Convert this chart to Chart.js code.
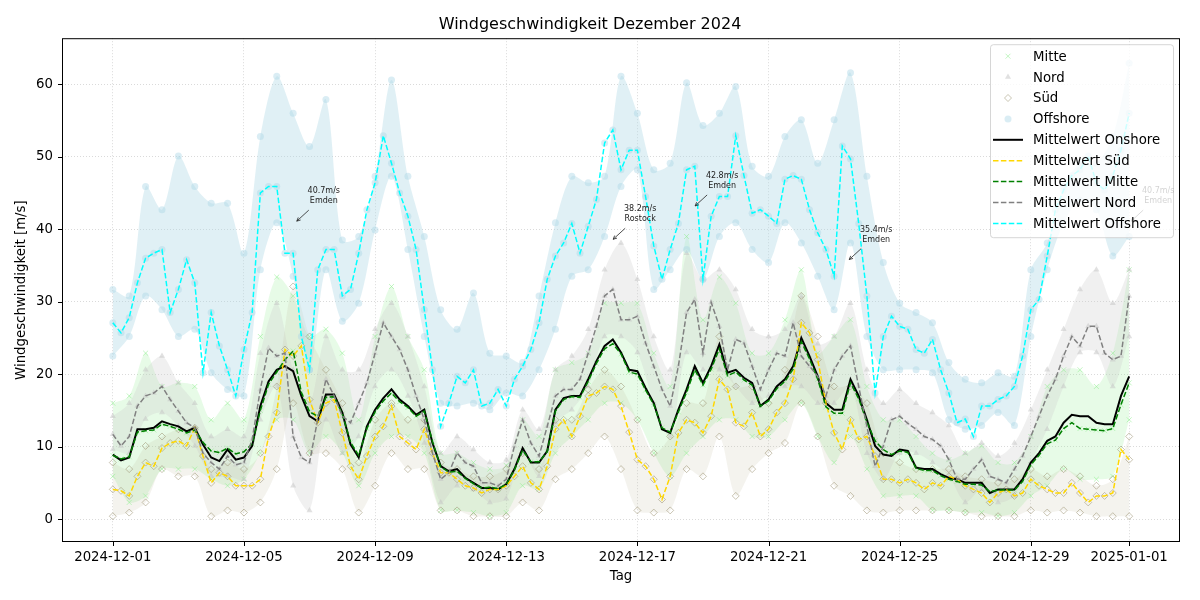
<!DOCTYPE html>
<html>
<head>
<meta charset="utf-8">
<script src="https://cdn.jsdelivr.net/npm/chart.js@4.4.1/dist/chart.umd.min.js"></script>
<style>
  html, body { margin: 0; padding: 0; background: #fff; }
  #wrap { width: 1200px; height: 600px; }
</style>
</head>
<body>
<div id="wrap"><canvas id="windChart" width="1200" height="600"></canvas></div>
<script>
// days since 2024-12-01 00:00, mean lines every 6 hours
const onshoreMean = [
  8.9, 8.1, 8.5, 12.4, 12.4, 12.6, 13.5, 13.1, 12.8, 12.1, 12.6, 10.3,
  8.5, 8.0, 9.6, 8.2, 8.5, 10.1, 15.6, 19.0, 20.6, 21.1, 20.4, 17.0,
  14.2, 13.5, 17.2, 17.2, 14.7, 10.3, 8.5, 12.8, 15.1, 16.7, 17.9, 16.5,
  15.6, 14.4, 15.1, 10.5, 7.3, 6.6, 6.9, 5.7, 5.0, 4.3, 4.3, 4.1,
  4.8, 6.9, 9.8, 7.8, 7.8, 9.4, 15.1, 16.7, 17.0, 17.0, 19.3, 21.8,
  23.9, 24.8, 23.0, 20.6, 20.4, 18.1, 16.0, 12.4, 11.9, 15.1, 17.9, 21.1,
  18.8, 21.1, 24.1, 20.2, 20.6, 19.5, 18.8, 15.6, 16.5, 18.3, 19.3, 21.1,
  25.0, 22.5, 19.7, 16.0, 15.1, 15.1, 19.3, 17.0, 13.7, 10.1, 8.9, 8.7,
  9.6, 9.4, 7.1, 6.9, 6.9, 6.2, 5.7, 5.5, 5.0, 5.0, 5.0, 3.6,
  4.1, 4.1, 4.1, 5.5, 7.8, 9.1, 10.8, 11.4, 13.3, 14.4, 14.2, 14.2,
  13.3, 13.1, 13.1, 17.0, 19.7
];
const sudMean = [
  4.1, 3.9, 3.2, 5.9, 7.8, 7.3, 9.8, 10.5, 10.8, 10.1, 12.6, 8.7,
  5.0, 6.4, 5.9, 4.6, 4.6, 4.6, 5.5, 11.4, 14.7, 23.4, 22.5, 23.9,
  16.5, 13.3, 16.0, 16.5, 11.9, 7.3, 5.5, 8.7, 11.4, 12.8, 15.6, 11.4,
  10.5, 9.6, 12.4, 9.1, 6.4, 6.4, 5.5, 4.6, 4.3, 3.6, 4.1, 4.1,
  4.6, 5.9, 7.3, 5.0, 4.1, 7.3, 12.4, 13.7, 11.4, 14.2, 17.0, 17.4,
  18.3, 17.9, 15.6, 12.0, 8.2, 7.3, 5.5, 2.7, 5.9, 11.9, 13.7, 13.3,
  11.9, 14.2, 19.3, 17.9, 13.3, 12.8, 14.7, 11.4, 12.4, 14.7, 16.0, 19.3,
  27.1, 25.7, 22.0, 16.0, 11.9, 9.6, 13.7, 11.0, 11.4, 8.7, 5.5, 5.5,
  5.0, 5.5, 5.0, 4.1, 5.0, 4.6, 5.9, 5.5, 4.6, 4.1, 3.6, 2.3,
  3.6, 4.1, 3.2, 3.6, 5.5, 4.6, 4.1, 3.6, 3.6, 5.0, 3.6, 2.3,
  3.2, 3.2, 3.6, 9.6, 8.2
];
const mitteMean = [
  8.8, 8.3, 8.6, 12.0, 12.2, 12.3, 13.1, 12.8, 12.4, 11.9, 12.3, 10.6,
  9.4, 9.2, 9.8, 9.0, 9.3, 10.4, 15.0, 18.6, 20.3, 22.0, 23.2, 17.5,
  14.8, 14.2, 16.8, 16.9, 14.5, 10.6, 8.8, 12.5, 14.8, 16.3, 17.4, 16.2,
  15.4, 14.2, 14.9, 10.7, 7.2, 6.5, 6.6, 5.6, 4.9, 4.3, 4.4, 4.2,
  4.8, 6.8, 9.5, 7.9, 7.9, 9.3, 14.9, 16.5, 16.9, 16.8, 19.0, 21.5,
  23.5, 24.2, 22.8, 20.3, 20.0, 17.8, 15.8, 12.6, 12.0, 14.8, 17.5, 20.6,
  18.5, 20.7, 23.5, 19.8, 20.3, 19.2, 18.5, 15.6, 16.3, 18.0, 19.0, 20.7,
  24.5, 22.1, 19.3, 15.5, 14.6, 14.6, 18.8, 16.6, 13.4, 10.8, 9.6, 8.9,
  9.4, 9.2, 7.0, 6.7, 6.7, 6.0, 5.5, 5.2, 4.8, 4.8, 4.7, 3.8,
  4.0, 4.0, 4.0, 5.2, 7.5, 8.8, 10.4, 10.9, 12.5, 13.3, 12.5, 12.4,
  12.3, 12.2, 12.5, 15.8, 18.8
];
const nordMean = [
  11.7, 10.1, 11.4, 15.6, 17.0, 17.4, 18.3, 16.5, 14.9, 13.3, 12.6, 9.1,
  7.8, 6.9, 8.7, 7.5, 7.8, 11.0, 17.9, 23.6, 22.5, 22.9, 11.4, 8.5,
  7.8, 13.8, 19.3, 17.0, 14.2, 13.3, 16.0, 18.8, 22.9, 27.1, 25.2, 23.4,
  20.6, 17.0, 13.7, 9.1, 5.5, 6.4, 9.1, 7.8, 7.3, 5.0, 5.0, 4.6,
  5.5, 10.1, 13.7, 10.5, 8.7, 12.8, 17.0, 17.9, 17.9, 19.3, 22.9, 26.6,
  30.8, 31.7, 27.5, 27.5, 28.0, 24.3, 21.1, 17.9, 15.6, 21.1, 28.5, 30.3,
  22.9, 29.9, 26.6, 20.6, 24.8, 24.3, 21.1, 17.9, 20.6, 22.9, 22.5, 27.1,
  22.5, 21.1, 19.7, 17.0, 20.6, 22.5, 23.9, 18.3, 12.8, 7.3, 10.1, 13.7,
  14.2, 13.2, 12.4, 11.4, 11.0, 10.1, 8.2, 5.5, 5.5, 6.9, 8.2, 5.9,
  5.5, 5.0, 6.9, 8.7, 11.4, 14.2, 17.0, 19.3, 22.5, 25.2, 23.9, 26.6,
  26.6, 22.9, 22.0, 22.5, 30.8
];
const offshoreMean = [
  27.1, 25.7, 27.8, 32.6, 36.0, 36.7, 37.2, 28.5, 31.7, 35.8, 32.6, 20.2,
  28.5, 23.9, 20.6, 17.0, 23.4, 28.5, 45.0, 45.9, 45.9, 36.7, 36.7, 25.2,
  20.6, 34.4, 37.2, 37.2, 30.8, 31.7, 36.7, 42.7, 46.4, 52.9, 49.1, 45.0,
  41.8, 37.2, 28.9, 20.6, 12.8, 16.0, 19.7, 18.8, 20.6, 15.6, 16.0, 17.9,
  15.6, 19.3, 21.1, 23.4, 27.1, 33.1, 36.3, 38.1, 40.8, 36.7, 40.4, 44.1,
  51.9, 53.7, 48.2, 50.9, 50.9, 44.5, 37.7, 33.1, 37.2, 40.8, 48.2, 48.7,
  33.1, 41.8, 44.5, 44.5, 52.9, 47.4, 42.2, 42.7, 41.8, 40.8, 46.9, 47.4,
  46.9, 42.7, 39.5, 37.2, 33.5, 51.5, 49.7, 40.8, 30.8, 17.4, 25.2, 28.0,
  26.6, 26.2, 23.4, 22.9, 24.8, 20.6, 17.4, 13.3, 13.8, 11.4, 15.6, 15.6,
  16.5, 17.0, 18.3, 22.5, 28.9, 30.3, 36.3, 42.7, 45.4, 47.4, 48.2, 50.1,
  46.4, 45.4, 47.4, 50.9, 56.0
];

// station spread, upper and lower edge every 12 hours
const mitteHi = [16.0, 17.0, 22.9, 18.3, 18.8, 18.3, 13.7, 16.0, 13.7, 25.2, 33.4, 30.8, 25.2, 26.2, 22.9, 13.7, 25.2, 32.1, 25.2, 20.6, 9.1, 9.1, 7.8, 6.9, 7.4, 13.7, 11.4, 20.6, 21.6, 22.9, 29.8, 29.8, 29.8, 22.9, 18.3, 39.0, 27.5, 33.4, 29.8, 22.9, 22.9, 27.5, 34.4, 22.9, 25.2, 27.5, 18.3, 13.7, 13.7, 11.4, 9.1, 8.2, 9.1, 10.1, 7.8, 7.8, 11.4, 18.3, 20.6, 20.6, 18.3, 22.9, 34.4];
const mitteLo = [5.9, 2.3, 3.2, 6.9, 6.9, 6.9, 5.5, 4.6, 5.5, 9.1, 13.7, 13.7, 9.1, 11.4, 9.1, 4.6, 9.1, 11.4, 11.4, 9.1, 1.2, 1.2, 0.9, 0.4, 0.9, 4.6, 4.1, 9.1, 11.4, 13.7, 16.0, 16.0, 13.7, 9.1, 5.9, 9.1, 11.4, 13.7, 13.7, 11.4, 11.4, 13.7, 16.0, 11.4, 7.8, 11.4, 6.9, 3.2, 3.2, 3.2, 1.2, 1.2, 0.9, 0.9, 0.4, 0.9, 3.2, 4.6, 6.9, 5.5, 5.5, 5.9, 13.7];
const nordHi = [14.2, 16.0, 20.6, 22.5, 18.8, 16.0, 11.4, 12.4, 11.4, 22.9, 29.8, 20.6, 16.0, 25.2, 20.6, 20.6, 26.2, 29.8, 25.2, 18.3, 9.1, 11.4, 9.6, 7.8, 8.2, 15.1, 12.4, 20.6, 22.5, 26.2, 34.4, 38.1, 33.1, 25.2, 20.6, 36.7, 33.1, 34.4, 31.7, 26.2, 25.2, 26.2, 30.8, 24.2, 25.2, 29.8, 20.6, 16.0, 17.9, 16.0, 14.7, 12.9, 9.1, 10.5, 8.7, 10.5, 15.1, 20.6, 26.2, 31.7, 34.4, 29.8, 34.4];
const nordLo = [9.6, 9.1, 13.8, 14.7, 12.8, 10.1, 5.9, 5.9, 5.5, 13.7, 18.3, 4.6, 1.2, 13.7, 9.1, 11.4, 18.3, 20.6, 17.0, 10.5, 2.3, 4.6, 4.1, 2.3, 2.8, 9.1, 5.9, 13.3, 15.1, 18.3, 25.2, 25.2, 23.0, 16.0, 11.4, 23.0, 20.6, 20.6, 18.3, 16.0, 17.0, 18.3, 18.3, 16.0, 16.0, 18.3, 9.1, 5.5, 9.1, 9.1, 7.8, 5.9, 2.3, 4.1, 2.3, 3.2, 7.8, 12.4, 18.3, 23.0, 23.0, 18.3, 25.2];
const sudHi = [7.8, 6.9, 10.1, 11.4, 12.4, 12.4, 6.9, 7.8, 6.9, 9.1, 18.3, 32.1, 25.2, 20.6, 16.0, 7.8, 13.7, 16.0, 13.7, 13.7, 7.8, 6.9, 5.9, 5.9, 6.9, 9.1, 6.9, 13.7, 13.7, 17.9, 20.6, 18.3, 13.7, 9.1, 11.4, 16.0, 16.0, 25.2, 18.3, 18.3, 16.0, 20.6, 30.8, 25.2, 18.3, 18.3, 16.0, 9.1, 7.8, 6.9, 6.9, 6.9, 5.9, 5.5, 5.0, 5.5, 6.9, 5.9, 6.9, 5.9, 4.6, 5.5, 11.4];
const sudLo = [0.4, 0.9, 2.3, 6.9, 5.9, 5.9, 0.4, 1.2, 0.9, 2.3, 6.9, 16.0, 9.1, 9.1, 6.9, 0.9, 4.6, 9.1, 6.9, 6.9, 1.2, 1.2, 0.4, 0.4, 0.4, 2.3, 1.2, 5.5, 6.9, 9.1, 11.4, 6.9, 1.2, 0.9, 1.2, 6.9, 5.9, 11.4, 3.2, 6.9, 9.1, 10.5, 16.0, 11.4, 4.6, 3.2, 1.2, 0.9, 1.2, 1.2, 1.2, 1.2, 0.9, 0.4, 0.4, 0.4, 1.2, 0.9, 1.2, 0.9, 0.4, 0.4, 0.4];
const offshoreHi = [31.7, 30.8, 45.9, 42.7, 50.1, 45.9, 43.6, 43.6, 36.7, 52.8, 61.1, 56.0, 51.4, 57.9, 38.5, 39.0, 47.3, 60.6, 47.3, 39.0, 28.9, 26.2, 31.2, 22.9, 22.5, 21.6, 30.8, 40.9, 47.3, 46.4, 47.3, 61.1, 56.0, 48.2, 49.1, 60.2, 54.3, 56.0, 59.7, 48.7, 47.3, 52.8, 55.1, 49.1, 55.1, 61.6, 47.3, 35.4, 29.8, 28.5, 27.1, 21.6, 19.3, 18.8, 20.2, 19.7, 34.4, 38.1, 45.9, 49.1, 49.1, 52.8, 62.9];
const offshoreLo = [22.5, 25.2, 30.8, 28.9, 25.2, 26.2, 20.2, 17.9, 17.0, 34.4, 40.9, 33.5, 20.6, 34.4, 27.3, 29.8, 39.9, 47.3, 37.2, 25.2, 16.0, 15.6, 16.0, 15.1, 17.4, 17.0, 20.6, 26.2, 33.5, 34.4, 39.0, 45.9, 48.2, 31.7, 34.4, 37.2, 33.1, 39.0, 40.9, 37.2, 35.4, 40.9, 38.1, 33.5, 28.9, 38.1, 25.2, 20.6, 20.6, 20.6, 20.2, 13.7, 12.4, 12.9, 14.7, 12.9, 25.2, 34.4, 40.9, 44.0, 42.7, 36.3, 39.0];

// marked maxima
const peakDays = [5.55, 15.2, 17.7, 22.4, 31.0];
const peakValues = [40.7, 38.2, 42.8, 35.4, 40.7];
const peakStations = ["Emden", "Rostock", "Emden", "Emden", "Emden"];

const xTicks = [0, 4, 8, 12, 16, 20, 24, 28, 31];
const yTicks = [0, 10, 20, 30, 40, 50, 60];

const FONT = "'DejaVu Sans', sans-serif";
const DAY0 = Date.UTC(2024, 11, 1);
const dash = [5.5, 2.4];

function sixHourly(values) {
  return values.map((v, i) => ({ x: i * 0.25, y: v }));
}
function halfDaily(values) {
  return values.map((v, i) => ({ x: i * 0.5, y: v }));
}
function cloud(hi, lo, mean) {
  return halfDaily(hi).concat(halfDaily(lo), sixHourly(mean));
}

const scatterSets = [
  { label: "Mitte", data: cloud(mitteHi, mitteLo, mitteMean), pointStyle: "crossRot",
    borderColor: "rgba(144,238,144,0.55)", backgroundColor: "rgba(144,238,144,0.55)", pointBorderWidth: 1, order: 9 },
  { label: "Nord", data: cloud(nordHi, nordLo, nordMean), pointStyle: "triangle",
    borderColor: "rgba(200,200,200,0.0)", backgroundColor: "rgba(195,195,195,0.5)", pointBorderWidth: 0, order: 8 },
  { label: "Süd", data: cloud(sudHi, sudLo, sudMean), pointStyle: "rectRot",
    borderColor: "rgba(150,140,105,0.5)", backgroundColor: "rgba(0,0,0,0)", pointBorderWidth: 1, order: 7 },
  { label: "Offshore", data: cloud(offshoreHi, offshoreLo, offshoreMean), pointStyle: "circle",
    borderColor: "rgba(0,0,0,0)", backgroundColor: "rgba(173,216,230,0.45)", pointBorderWidth: 0, order: 6 }
].map(s => Object.assign({ type: "scatter", pointRadius: 3.5 }, s));

// the dense part of each station cloud, shaded between its upper and lower edge
function band(hi, lo, color, order) {
  const base = { type: "line", pointRadius: 0, borderWidth: 0, borderColor: "rgba(0,0,0,0)", tension: 0.3, order: order };
  return [
    Object.assign({ data: halfDaily(hi), fill: "+1", backgroundColor: color }, base),
    Object.assign({ data: halfDaily(lo), fill: false }, base)
  ];
}
const bandSets = [].concat(
  band(mitteHi, mitteLo, "rgba(144,238,144,0.22)", 17),
  band(nordHi, nordLo, "rgba(205,205,205,0.3)", 16),
  band(sudHi, sudLo, "rgba(185,178,150,0.16)", 15),
  band(offshoreHi, offshoreLo, "rgba(173,216,230,0.38)", 14)
);

const lineSets = [
  { label: "Mittelwert Onshore", data: sixHourly(onshoreMean), borderColor: "#000000", borderWidth: 2, borderDash: [], order: 5 },
  { label: "Mittelwert Süd", data: sixHourly(sudMean), borderColor: "#ffd700", borderWidth: 1.5, borderDash: dash, order: 4 },
  { label: "Mittelwert Mitte", data: sixHourly(mitteMean), borderColor: "#008000", borderWidth: 1.5, borderDash: dash, order: 3 },
  { label: "Mittelwert Nord", data: sixHourly(nordMean), borderColor: "#808080", borderWidth: 1.5, borderDash: dash, order: 2 },
  { label: "Mittelwert Offshore", data: sixHourly(offshoreMean), borderColor: "#00ffff", borderWidth: 1.5, borderDash: dash, order: 1 }
].map(s => Object.assign({ type: "line", pointRadius: 0, tension: 0, fill: false, showLine: true }, s));

function drawMarker(ctx, style, x, y, r, ds) {
  ctx.save();
  ctx.fillStyle = ds.backgroundColor;
  ctx.strokeStyle = ds.borderColor;
  ctx.lineWidth = 1;
  ctx.beginPath();
  if (style === "crossRot") {
    ctx.moveTo(x - r * 0.7, y - r * 0.7); ctx.lineTo(x + r * 0.7, y + r * 0.7);
    ctx.moveTo(x - r * 0.7, y + r * 0.7); ctx.lineTo(x + r * 0.7, y - r * 0.7);
    ctx.stroke();
  } else if (style === "triangle") {
    ctx.moveTo(x, y - r); ctx.lineTo(x + r * 0.87, y + r * 0.5); ctx.lineTo(x - r * 0.87, y + r * 0.5);
    ctx.closePath(); ctx.fill();
  } else if (style === "rectRot") {
    ctx.moveTo(x, y - r); ctx.lineTo(x + r, y); ctx.lineTo(x, y + r); ctx.lineTo(x - r, y);
    ctx.closePath(); ctx.stroke();
  } else {
    ctx.arc(x, y, r, 0, Math.PI * 2); ctx.fill();
  }
  ctx.restore();
}

const framePlugin = {
  id: "frame",
  afterDatasetsDraw(chart) {
    const { ctx, chartArea: a, scales } = chart;
    ctx.save();
    // peak annotations
    ctx.font = "8px " + FONT;
    ctx.fillStyle = "#222";
    ctx.textAlign = "center";
    ctx.textBaseline = "middle";
    peakDays.forEach((d, i) => {
      const px = scales.x.getPixelForValue(d);
      const py = scales.y.getPixelForValue(peakValues[i]);
      ctx.fillText(peakValues[i].toFixed(1) + "m/s", px + 29, py - 33);
      ctx.fillText(peakStations[i], px + 29, py - 23);
      const x1 = px + 14, y1 = py - 14, x2 = px + 2, y2 = py - 3;
      ctx.strokeStyle = "#222";
      ctx.lineWidth = 0.8;
      ctx.beginPath();
      ctx.moveTo(x1, y1); ctx.lineTo(x2, y2);
      const ang = Math.atan2(y2 - y1, x2 - x1);
      ctx.moveTo(x2 - 4 * Math.cos(ang - 0.45), y2 - 4 * Math.sin(ang - 0.45));
      ctx.lineTo(x2, y2);
      ctx.lineTo(x2 - 4 * Math.cos(ang + 0.45), y2 - 4 * Math.sin(ang + 0.45));
      ctx.stroke();
    });
    // axes box and tick marks
    ctx.strokeStyle = "#000";
    ctx.lineWidth = 1;
    ctx.strokeRect(a.left + 0.5, a.top + 0.5, a.right - a.left - 1, a.bottom - a.top - 1);
    ctx.beginPath();
    xTicks.forEach(v => {
      const px = Math.round(scales.x.getPixelForValue(v)) + 0.5;
      ctx.moveTo(px, a.bottom); ctx.lineTo(px, a.bottom + 4);
    });
    yTicks.forEach(v => {
      const py = Math.round(scales.y.getPixelForValue(v)) + 0.5;
      ctx.moveTo(a.left, py); ctx.lineTo(a.left - 4, py);
    });
    ctx.stroke();

    // legend, upper right inside the axes
    const all = scatterSets.concat(lineSets);
    const bx = a.right - 7 - 183, by = a.top + 6, bw = 183, bh = 193;
    ctx.fillStyle = "rgba(255,255,255,0.8)";
    ctx.strokeStyle = "rgba(204,204,204,0.8)";
    ctx.beginPath();
    ctx.roundRect(bx + 0.5, by + 0.5, bw, bh, 3);
    ctx.fill(); ctx.stroke();
    ctx.font = "13.3px " + FONT;
    ctx.textAlign = "left";
    ctx.textBaseline = "middle";
    all.forEach((ds, i) => {
      const ry = by + 12 + i * 20.9;
      if (ds.type === "scatter") {
        drawMarker(ctx, ds.pointStyle, bx + 18, ry, 3.5, ds);
      } else {
        ctx.strokeStyle = ds.borderColor;
        ctx.lineWidth = ds.borderWidth;
        ctx.setLineDash(ds.borderDash);
        ctx.beginPath();
        ctx.moveTo(bx + 3, ry); ctx.lineTo(bx + 33, ry);
        ctx.stroke();
        ctx.setLineDash([]);
      }
      ctx.fillStyle = "#000";
      ctx.fillText(ds.label, bx + 43, ry + 1);
    });
    ctx.restore();
  }
};

const ctx = document.getElementById("windChart").getContext("2d");
new Chart(ctx, {
  type: "scatter",
  data: { datasets: bandSets.concat(scatterSets, lineSets) },
  options: {
    responsive: false,
    animation: false,
    devicePixelRatio: 1,
    layout: { padding: { left: 0, right: 20, top: 0, bottom: 0 } },
    plugins: {
      legend: { display: false },
      tooltip: { enabled: false },
      title: {
        display: true,
        text: "Windgeschwindigkeit Dezember 2024",
        color: "#000",
        font: { family: FONT, size: 16, weight: "normal" },
        padding: { top: 15, bottom: 4 }
      }
    },
    scales: {
      x: {
        type: "linear",
        min: -1.55,
        max: 32.55,
        afterFit: s => { s.height = 58; },
        afterBuildTicks: s => { s.ticks = xTicks.map(v => ({ value: v })); },
        ticks: {
          color: "#000",
          font: { family: FONT, size: 13.3 },
          padding: 8,
          maxRotation: 0,
          autoSkip: false,
          callback: v => new Date(DAY0 + v * 86400000).toISOString().slice(0, 10)
        },
        grid: { color: "rgba(176,176,176,0.6)", drawTicks: false, lineWidth: 0.8 },
        border: { display: false, dash: [1, 2] },
        title: { display: true, text: "Tag", color: "#000", font: { family: FONT, size: 13.3 }, padding: { top: 2, bottom: 15 } }
      },
      y: {
        type: "linear",
        min: -3.16,
        max: 66.36,
        afterFit: s => { s.width = 62; },
        afterBuildTicks: s => { s.ticks = yTicks.map(v => ({ value: v })); },
        ticks: {
          color: "#000",
          font: { family: FONT, size: 13.3 },
          padding: 9
        },
        grid: { color: "rgba(176,176,176,0.6)", drawTicks: false, lineWidth: 0.8 },
        border: { display: false, dash: [1, 2] },
        title: { display: true, text: "Windgeschwindigkeit [m/s]", color: "#000", font: { family: FONT, size: 13.3 }, padding: { top: 14, bottom: 2 } }
      }
    }
  },
  plugins: [framePlugin]
});
</script>
</body>
</html>
